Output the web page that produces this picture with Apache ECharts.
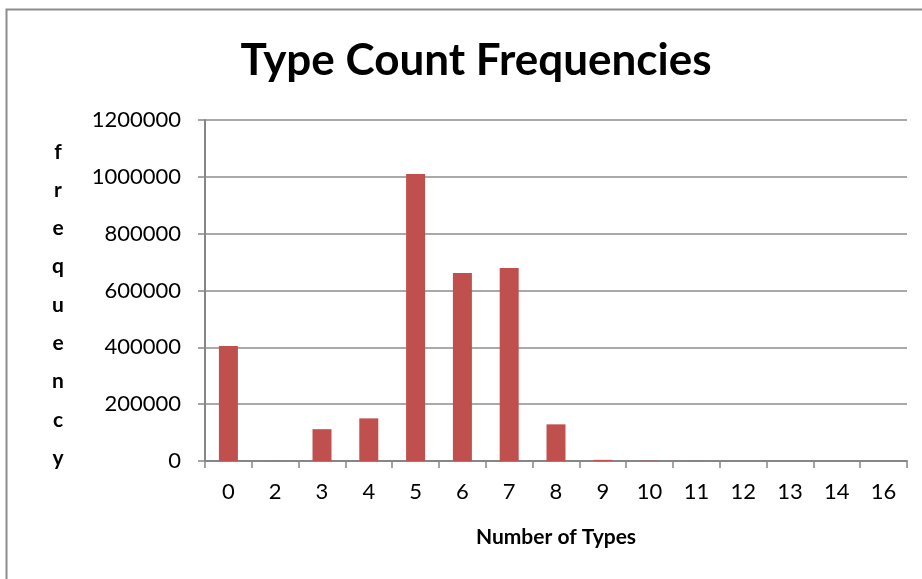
<!DOCTYPE html>
<html>
<head>
<meta charset="utf-8">
<script src="https://cdn.jsdelivr.net/npm/echarts@6/dist/echarts.min.js"></script>
<style>
html,body{margin:0;padding:0;background:#fff;}
#chart{width:922px;height:579px;}
</style>
</head>
<body>
<div id="chart"></div>
<script>
const titleText = "Type Count Frequencies";
const xAxisTitle = "Number of Types";
const yAxisTitle = "frequency";
const cats = ["0","2","3","4","5","6","7","8","9","10","11","12","13","14","16"];
const frequencies = [405000, 300, 112000, 150000, 1010000, 662000, 679000, 129000, 4000, 900, 300, 100, 50, 20, 5];
const yTicks = [0, 200000, 400000, 600000, 800000, 1000000, 1200000];

const chart = echarts.init(document.getElementById('chart'), null, {renderer:'canvas'});
const font = 'Lato, "Open Sans", sans-serif';
chart.setOption({
  animation: false,
  backgroundColor: '#fff',
  title: {
    text: titleText,
    left: 471, top: 34, textAlign: 'center',
    textStyle: {fontFamily: font, fontWeight: 'bold', fontSize: 44, color: '#000'}
  },
  graphic: [{
    type: 'polyline',
    shape: {points: [[6.5, 600], [6.5, 9.5], [930, 9.5]]},
    style: {stroke: '#8c8c8c', lineWidth: 2, fill: null}
  }, {
    type: 'text',
    x: 58, y: 305,
    style: {
      text: yAxisTitle.split('').join('\n'),
      font: 'bold 21px ' + font,
      fill: '#000',
      lineHeight: 38.3,
      align: 'center',
      verticalAlign: 'middle'
    }
  }],
  grid: {left: 205, right: 15, top: 120, bottom: 118, containLabel: false},
  xAxis: {
    type: 'category',
    data: cats,
    name: xAxisTitle,
    nameLocation: 'middle',
    nameGap: 66,
    nameTextStyle: {fontFamily: font, fontWeight: 'bold', fontSize: 21, color: '#000'},
    axisLine: {lineStyle: {color: '#868686', width: 2}},
    axisTick: {show: true, alignWithLabel: false, length: 7, lineStyle: {color: '#868686', width: 1.5}},
    axisLabel: {fontFamily: font, fontSize: 22, color: '#000', margin: 20}
  },
  yAxis: {
    type: 'value',
    min: 0, max: 1200000, interval: 200000,
    axisLine: {show: true, lineStyle: {color: '#868686', width: 2}},
    axisTick: {show: true, length: 7, lineStyle: {color: '#868686', width: 1.5}},
    axisLabel: {fontFamily: font, fontSize: 22, color: '#000', margin: 24,
      formatter: v => yTicks.includes(v) ? String(v) : ''},
    splitLine: {show: true, lineStyle: {color: '#8c8c8c', width: 1.5}}
  },
  series: [{
    type: 'bar',
    data: frequencies,
    barWidth: 19,
    itemStyle: {color: '#C0504D'}
  }]
});
</script>
</body>
</html>
